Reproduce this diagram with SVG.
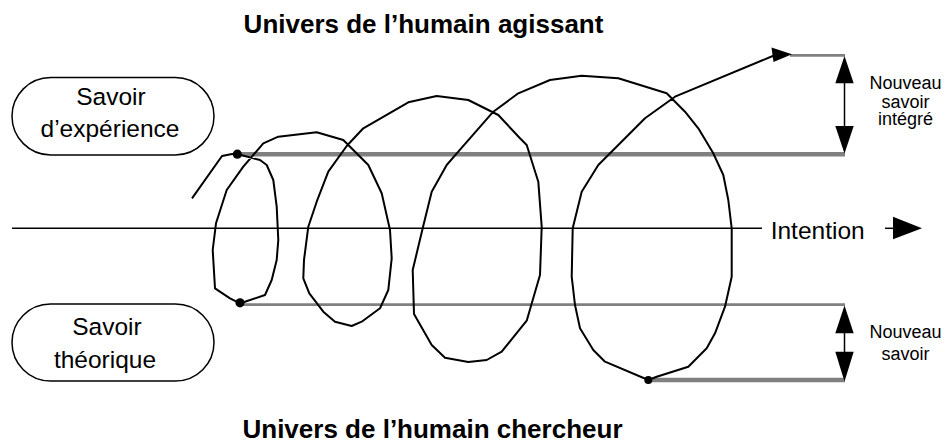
<svg xmlns="http://www.w3.org/2000/svg" width="946" height="443" viewBox="0 0 946 443">
<style>
  text { font-family: "Liberation Sans", Arial, sans-serif; fill: #000; }
  .title { font-size: 26px; font-weight: bold; text-anchor: middle; }
  .box { fill: #fff; stroke: #000; stroke-width: 1.5; }
  .boxtext { font-size: 24.5px; text-anchor: middle; }
  .small { font-size: 18px; text-anchor: middle; }
  .spiral { fill: none; stroke: #000; stroke-width: 2; stroke-linejoin: round; }
  .gthick { stroke: #808080; stroke-width: 4.5; }
  .gthin { stroke: #808080; stroke-width: 2.7; }
  .axis { stroke: #000; stroke-width: 1.5; }
  .head { fill: #000; }
</style>

<g id="title-top"><text class="title" x="423.5" y="33">Univers de l’humain agissant</text></g>
<g id="title-bottom"><text class="title" x="432.5" y="438">Univers de l’humain chercheur</text></g>

<g id="savoir-experience">
  <rect class="box" x="12" y="77.5" width="202" height="77.5" rx="38.75"/>
  <text class="boxtext" x="111" y="105">Savoir</text>
  <text class="boxtext" x="110" y="136.7">d’expérience</text>
</g>

<g id="savoir-theorique">
  <rect class="box" x="12" y="304" width="202" height="77" rx="38.5"/>
  <text class="boxtext" x="107" y="335">Savoir</text>
  <text class="boxtext" x="105" y="368">théorique</text>
</g>

<g id="intention">
  <text x="770.7" y="239" style="font-size:24.5px">Intention</text>
</g>

<g id="label-integre">
  <text class="small" x="905.5" y="88.5">Nouveau</text>
  <text class="small" x="905.5" y="107.5">savoir</text>
  <text class="small" x="905.5" y="125">intégré</text>
</g>

<g id="label-nouveau">
  <text class="small" x="905.5" y="338.3">Nouveau</text>
  <text class="small" x="905.5" y="360.3">savoir</text>
</g>

<g id="connectors">
  <line class="axis" x1="12" y1="228.3" x2="762" y2="228.3"/>
  <line class="axis" x1="885" y1="228.3" x2="895" y2="228.3"/>
  <polygon class="head" points="893,216.8 922,228.3 893,239.3"/>

  <line class="gthick" x1="237" y1="154.3" x2="845" y2="154.3"/>
  <line class="gthin" x1="240" y1="304.7" x2="845" y2="304.7"/>
  <line class="gthick" x1="648" y1="380" x2="845" y2="380"/>
  <line class="gthin" x1="790" y1="55.3" x2="845" y2="55.3"/>

  <polyline class="spiral" points="192,198.3 222,156 232,154 237.3,154 260,160 266.7,165 273.3,180 276.7,206.7 278.3,240 276.7,260 271.7,280 265,295 245,301.7 240,303.3 230,298.3 215,288.3 212.7,250 216,223.3 226.7,190 243.3,166.7 263.3,143.3 278.3,136.7 316.7,132.2 343.3,140 368.3,165 381.7,193.3 390,230 391.7,258.3 388.3,290 380,308.3 361.7,321.7 351.7,326 335,321.7 323.3,311.7 309.3,293.3 303.3,278.3 304,260 308.3,226.7 316.7,201.7 328.3,171.7 346.7,146 363.3,128.3 408.3,102.3 436.7,96 468.3,100 498.3,115 520,138.3 526.7,145 538.3,181.7 541.7,226.7 540,275 526.7,320.7 501.7,351.7 486.7,360 468.3,362 445,357.7 431.7,345 414,314 412.7,270 422.7,228.3 431.7,191.7 446.7,165 458.3,151.7 493.3,111.7 518.3,93.3 550,80 581.7,75.7 618.3,78.3 666.7,93.3 685,111.7 698.3,128.3 713.3,153.3 723.3,175 728.3,200 731.7,228.3 731.7,276.7 725,306.7 715,333.3 706.7,348.3 688.3,366.7 656.7,376.7 648.3,380 605,361.7 593.3,350 580,328.3 575,305 571.7,276.7 572.7,228.3 581.7,191.7 598.3,165 645,118.3 675,96.7 774,55.5"/>
  <polygon class="head" points="771.5,47.5 792,54.3 773.5,62"/>

  <circle class="head" cx="237.3" cy="154.2" r="4.6"/>
  <circle class="head" cx="240" cy="302.8" r="4.6"/>
  <circle class="head" cx="648.3" cy="380" r="4"/>

  <line class="axis" x1="844.5" y1="80" x2="844.5" y2="130"/>
  <polygon class="head" points="844.5,56 835.3,83.3 853.7,83.3"/>
  <polygon class="head" points="835.3,126 853.7,126 844.5,153.5"/>
  <line class="axis" x1="844.5" y1="330" x2="844.5" y2="355"/>
  <polygon class="head" points="844.5,305.5 835.3,333.3 853.7,333.3"/>
  <polygon class="head" points="835.3,351.7 853.7,351.7 844.5,381.5"/>
</g>
</svg>
